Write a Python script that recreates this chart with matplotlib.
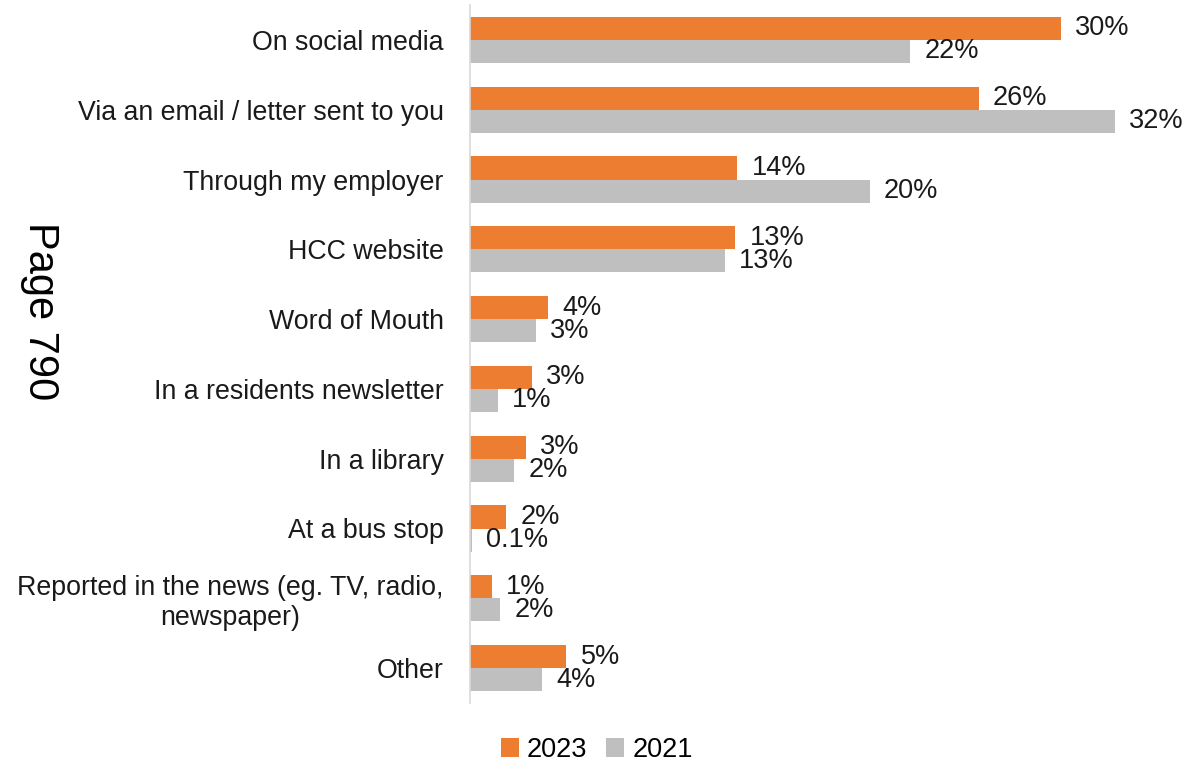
import numpy as np
import matplotlib.pyplot as plt

plt.rcParams['font.family'] = ['Liberation Sans', 'DejaVu Sans']

categories = ["On social media", "Via an email / letter sent to you", "Through my employer",
              "HCC website", "Word of Mouth", "In a residents newsletter", "In a library",
              "At a bus stop", "Reported in the news (eg. TV, radio,\nnewspaper)", "Other"]
vals_2023 = [29.4, 25.3, 13.3, 13.2, 3.9, 3.1, 2.8, 1.8, 1.1, 4.8]
vals_2021 = [21.9, 32.1, 19.9, 12.7, 3.3, 1.4, 2.2, 0.1, 1.5, 3.6]
labels_2023 = ["30%", "26%", "14%", "13%", "4%", "3%", "3%", "2%", "1%", "5%"]
labels_2021 = ["22%", "32%", "20%", "13%", "3%", "1%", "2%", "0.1%", "2%", "4%"]

orange = "#ED7D31"
grey = "#BFBFBF"
txt = "#1a1a1a"

fig = plt.figure(figsize=(11.84, 7.63), dpi=100)
ax = fig.add_axes([470/1184, 1 - 703/763, 700/1184, 698/763])

y = np.arange(len(categories))
h = 0.33
b1 = ax.barh(y - h/2, vals_2023, height=h, color=orange, label="2023")
b2 = ax.barh(y + h/2, vals_2021, height=h, color=grey, label="2021")

for bar, lab in zip(b1, labels_2023):
    ax.text(bar.get_width() + 0.7, bar.get_y() + bar.get_height()/2, lab,
            va='center', ha='left', fontsize=19.5, color=txt)
for bar, lab in zip(b2, labels_2021):
    ax.text(bar.get_width() + 0.7, bar.get_y() + bar.get_height()/2, lab,
            va='center', ha='left', fontsize=19.5, color=txt)

ax.set_xlim(0, 700/20.1)
ax.set_ylim(9.5, -0.5)
ax.set_yticks(y)
ax.set_yticklabels(categories, fontsize=19.3, color=txt, multialignment='center')
ax.tick_params(axis='y', length=0, pad=19)
ax.set_xticks([])
for s in ['top', 'right', 'bottom']:
    ax.spines[s].set_visible(False)
ax.spines['left'].set_color('#D9D9D9')
ax.spines['left'].set_linewidth(1.2)

fig.legend(handles=[b1, b2], labels=["2023", "2021"], loc='center',
           bbox_to_anchor=(597/1184, 1 - 750/763), ncol=2, frameon=False,
           fontsize=19.5, handlelength=0.65, handleheight=0.65, handletextpad=0.3,
           columnspacing=0.7)

fig.text(40/1184, 1 - 311/763, "Page 790", rotation=270, fontsize=30,
         ha='center', va='center')

fig.savefig("out.png", dpi=100)
